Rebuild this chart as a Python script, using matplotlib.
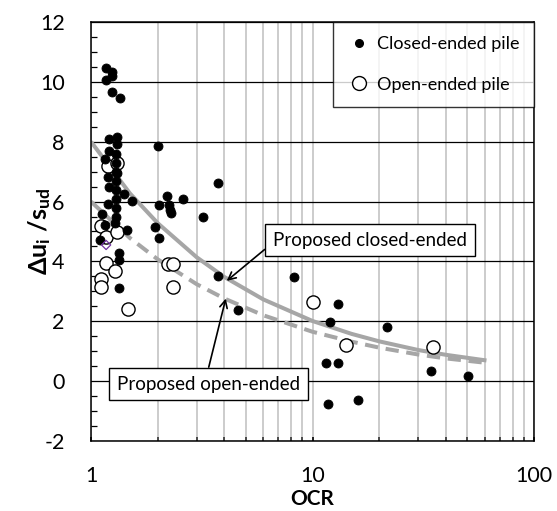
import matplotlib
matplotlib.use('Agg')
import matplotlib.pyplot as plt
from matplotlib.ticker import MultipleLocator, LogLocator, NullFormatter
from matplotlib.lines import Line2D

plt.rcParams['font.family'] = ['Lato', 'DejaVu Sans']
plt.rcParams['mathtext.fontset'] = 'custom'
plt.rcParams['mathtext.rm'] = 'Lato'
plt.rcParams['mathtext.bf'] = 'Lato:bold'
plt.rcParams['mathtext.it'] = 'Lato:italic'
plt.rcParams['axes.unicode_minus'] = False

# ---- data ----
closed_ocr = [1.17, 1.17, 1.25, 1.25, 1.25, 1.35,
              1.21, 1.31, 1.31, 1.21, 1.16, 2.0,
              1.30, 1.30, 1.30, 1.30, 1.30, 1.30, 1.30, 1.30,
              1.19, 1.21, 1.31, 1.41, 1.53, 2.03, 2.2, 2.6, 2.25, 2.27, 2.3,
              1.12, 1.19, 1.29, 1.16, 1.45, 1.95, 2.03, 3.21, 1.10,
              1.34, 1.34, 1.34, 3.76, 3.73, 8.25, 13.0, 12.0, 21.6,
              11.5, 13.0, 34.2, 50.2, 11.7, 16.0, 4.6]
closed_du = [10.47, 10.06, 10.32, 10.20, 9.65, 9.45,
             8.08, 8.15, 7.92, 7.70, 7.42, 7.85,
             7.6, 7.3, 7.0, 6.7, 6.4, 6.1, 5.8, 5.5,
             6.81, 6.50, 6.94, 6.25, 6.02, 5.89, 6.2, 6.08, 5.89, 5.72, 5.61,
             5.58, 5.92, 5.27, 5.22, 5.05, 5.14, 4.77, 5.49, 4.72,
             4.27, 4.05, 3.10, 3.51, 6.61, 3.47, 2.58, 1.98, 1.82,
             0.62, 0.60, 0.35, 0.18, -0.76, -0.63, 2.38]

open_ocr = [1.11, 1.17, 1.31, 1.17, 1.29, 1.11, 1.11, 1.47,
            2.23, 2.34, 2.34, 1.19, 1.31, 10.1, 14.1, 35.1]
open_du = [5.18, 4.83, 4.99, 3.94, 3.68, 3.40, 3.14, 2.40,
           3.91, 3.91, 3.14, 7.19, 7.28, 2.65, 1.21, 1.15]

other_ocr = [1.17]
other_du = [4.55]

curve_ocr = [1, 1.5, 2, 3, 4, 6, 10, 15, 20, 30, 40, 61]
curve_closed = [8.0, 6.27, 5.28, 4.14, 3.48, 2.73, 2.01, 1.58, 1.33, 1.04, 0.88, 0.69]
curve_open = [6.0, 4.78, 4.07, 3.24, 2.76, 2.20, 1.65, 1.32, 1.12, 0.89, 0.76, 0.61]

x_ticks = [1, 10, 100]
x_ticklabels = ['1', '10', '100']
y_ticks = [-2, 0, 2, 4, 6, 8, 10, 12]

# ---- figure ----
W, H = 557, 511
fig = plt.figure(figsize=(W / 100, H / 100), dpi=100)
ax = fig.add_axes([91 / W, 70 / H, 443 / W, 419 / H])
ax.set_xscale('log')
ax.set_xlim(1, 100)
ax.set_ylim(-2, 12)

ax.set_xticks(x_ticks, labels=x_ticklabels)
ax.xaxis.set_minor_locator(LogLocator(base=10, subs=range(2, 10)))
ax.xaxis.set_minor_formatter(NullFormatter())
ax.set_yticks(y_ticks)
ax.yaxis.set_minor_locator(MultipleLocator(0.5))

ax.grid(which='both', axis='x', color='#c8c8c8', lw=1.3, zorder=0)
ax.grid(which='major', axis='y', color='black', lw=0.9, zorder=0)
ax.set_axisbelow(True)

ax.tick_params(axis='y', which='major', direction='in', length=0, labelsize=15.5, pad=19)
ax.tick_params(axis='y', which='minor', direction='in', length=4.5, width=0.9, color='black')
ax.tick_params(axis='x', which='major', direction='in', length=3, width=1.2, labelsize=15.5, pad=18)
ax.tick_params(axis='x', which='minor', direction='in', length=3, width=1.2, color='#333333')
for s in ax.spines.values():
    s.set_linewidth(1.1)
    s.set_color('black')

# curves
ax.plot(curve_ocr, curve_closed, color='#a6a6a6', lw=2.9, zorder=2, solid_capstyle='butt')
ln, = ax.plot(curve_ocr, curve_open, color='#a6a6a6', lw=2.9, zorder=2, dash_capstyle='butt')
ln.set_dashes([3.3, 1.9])

# points
ax.scatter(closed_ocr, closed_du, s=42, color='black', edgecolors='black', lw=0.6, zorder=4)
ax.scatter(open_ocr, open_du, s=90, facecolors='white', edgecolors='black', lw=1.0, zorder=3)
ax.scatter(other_ocr, other_du, s=22, marker='D', facecolors='none', edgecolors='#7030a0', lw=0.9, zorder=4)

# labels
ax.set_ylabel(r'$\mathbf{\Delta u_i\ /s_{ud}}$', fontsize=18)
ax.yaxis.set_label_coords((53 - 91) / 443, 0.5)
ax.set_xlabel('OCR', fontsize=15, fontweight='bold')
ax.xaxis.set_label_coords(0.5, (441 - 505) / 419)
ax.xaxis.label.set_va('baseline')

# legend
handles = [Line2D([], [], ls='none', marker='o', ms=5.5, color='black'),
           Line2D([], [], ls='none', marker='o', ms=10, mfc='white', mec='black', mew=1.0)]
leg = ax.legend(handles, ['Closed-ended pile', 'Open-ended pile'], loc='upper right',
                fontsize=13, frameon=True, fancybox=False, borderaxespad=0,
                labelspacing=1.35, borderpad=0.8, handletextpad=0.35, handlelength=1.3)
leg.get_frame().set_edgecolor('black')
leg.get_frame().set_linewidth(1.0)
leg.set_zorder(6)

# annotations
bbox = dict(boxstyle='square,pad=0.42', fc='white', ec='black', lw=1.0)
ax.annotate('Proposed closed-ended', xy=(4.1, 3.35), xycoords='data',
            xytext=(370, H - 240), textcoords='figure pixels',
            ha='center', va='center', fontsize=13.5, bbox=bbox, zorder=7,
            arrowprops=dict(arrowstyle='->', color='black', lw=1.2,
                            relpos=(0.0, 0.35), shrinkA=0, shrinkB=0))
ax.annotate('Proposed open-ended', xy=(4.06, 2.76), xycoords='data',
            xytext=(208.5, H - 384), textcoords='figure pixels',
            ha='center', va='center', fontsize=13.5, bbox=bbox, zorder=7,
            annotation_clip=False,
            arrowprops=dict(arrowstyle='->', color='black', lw=1.2,
                            relpos=(0.49, 1.0), shrinkA=0, shrinkB=0))

fig.savefig('out.png', dpi=100)
